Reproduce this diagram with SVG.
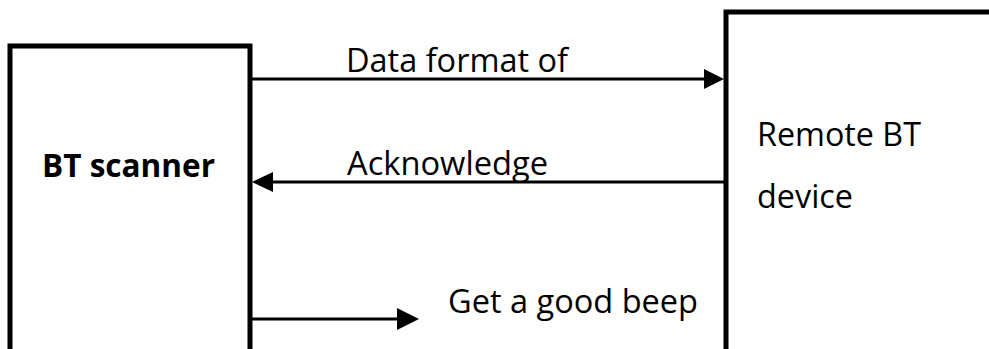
<svg xmlns="http://www.w3.org/2000/svg" width="989" height="349" viewBox="0 0 989 349">
<style>
.box{fill:none;stroke:#000;stroke-width:5;stroke-linejoin:miter}
.ln{stroke:#000;stroke-width:3;fill:none}
.hd{fill:#000}
.t{font-family:"Open Sans","Liberation Sans",sans-serif;font-size:32px;fill:#000}
.b{font-weight:bold}
</style>
<rect width="989" height="349" fill="#fff"/>
<g id="bt-scanner">
<path class="box" d="M10,352 V46 H250 V352"/>
<text class="t b" x="42" y="177" textLength="173" lengthAdjust="spacingAndGlyphs">BT scanner</text>
</g>
<g id="remote-bt">
<path class="box" d="M726,352 V12 H995"/>
<text class="t" x="757" y="146" textLength="164" lengthAdjust="spacingAndGlyphs">Remote BT</text>
<text class="t" x="757" y="208" textLength="96" lengthAdjust="spacingAndGlyphs">device</text>
</g>
<g id="connectors">
<line class="ln" x1="250" y1="79" x2="706" y2="79"/>
<polygon class="hd" points="724,79 704,69 704,89"/>
<text class="t" x="346" y="72" textLength="222" lengthAdjust="spacingAndGlyphs">Data format of</text>
<line class="ln" x1="726" y1="182" x2="270" y2="182"/>
<polygon class="hd" points="252,182 273,172 273,192"/>
<text class="t" x="347" y="175" textLength="201" lengthAdjust="spacingAndGlyphs">Acknowledge</text>
<line class="ln" x1="250" y1="319" x2="399" y2="319"/>
<polygon class="hd" points="419,319 397,308 397,330"/>
<text class="t" x="448" y="313" textLength="250" lengthAdjust="spacingAndGlyphs">Get a good beep</text>
</g>
</svg>
